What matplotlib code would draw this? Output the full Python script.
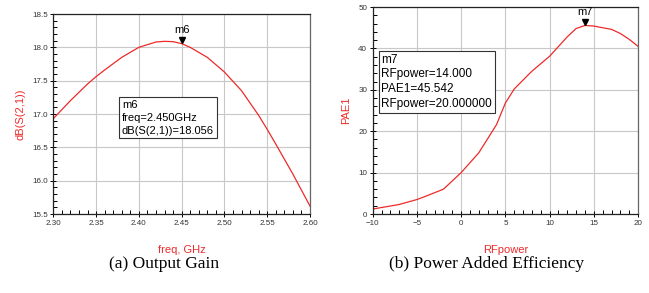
import numpy as np
import matplotlib.pyplot as plt
from matplotlib.ticker import MultipleLocator

# %% data

freq = [2.30, 2.32, 2.34, 2.35, 2.36, 2.38, 2.40, 2.42, 2.43, 2.44, 2.45,
        2.46, 2.48, 2.50, 2.52, 2.54, 2.55, 2.56, 2.58, 2.60]
gain = [16.93, 17.20, 17.45, 17.56, 17.66, 17.85, 18.00, 18.08, 18.09, 18.085, 18.056,
        18.00, 17.85, 17.63, 17.35, 16.98, 16.77, 16.55, 16.10, 15.62]

rfpower = [-10, -7, -5, -4, -2, 0, 2, 4, 5, 6, 8, 10, 12, 13, 14, 15, 17, 18, 19, 20]
pae = [1.2, 2.3, 3.5, 4.3, 6.0, 10.0, 14.8, 21.6, 26.8, 30.2, 34.5, 38.1, 42.8, 44.8,
       45.542, 45.4, 44.6, 43.6, 42.2, 40.5]

m6 = (2.45, 18.056)
m7 = (14.0, 45.542)
m6_text = "m6\nfreq=2.450GHz\ndB(S(2,1))=18.056"
m7_text = "m7\nRFpower=14.000\nPAE1=45.542\nRFpower=20.000000"

# %% styling

RED = "#ee2a2a"
plt.rcParams["font.family"] = ["Liberation Sans", "DejaVu Sans"]

fig = plt.figure(figsize=(6.49, 2.93), dpi=100)


def style_ax(ax, xmaj, xmin, ymaj, ymin, xfmt, yfmt):
    ax.xaxis.set_major_locator(MultipleLocator(xmaj))
    ax.xaxis.set_minor_locator(MultipleLocator(xmin))
    ax.yaxis.set_major_locator(MultipleLocator(ymaj))
    ax.yaxis.set_minor_locator(MultipleLocator(ymin))
    ax.xaxis.set_major_formatter(xfmt)
    ax.yaxis.set_major_formatter(yfmt)
    ax.grid(True, which="major", color="#c8c8c8", lw=0.8)
    ax.tick_params(which="major", direction="inout", length=5, width=0.7,
                   labelsize=5.8, labelcolor="#333333", pad=1.5)
    ax.tick_params(which="minor", direction="in", length=3, width=0.7)
    ax.tick_params(which="both", top=False, right=False)
    for s in ["left", "bottom", "top"]:
        ax.spines[s].set_color("#222222")
        ax.spines[s].set_linewidth(0.9)
    ax.spines["right"].set_color("#666666")
    ax.spines["right"].set_linewidth(0.9)


# left: output gain
ax1 = fig.add_axes([0.0821, 0.2696, 0.3955, 0.6826])
ax1.plot(freq, gain, color=RED, lw=0.9)
ax1.set_xlim(2.30, 2.60)
ax1.set_ylim(15.5, 18.5)
style_ax(ax1, 0.05, 0.01, 0.5, 0.1, "{x:.2f}", "{x:.1f}")
ax1.set_xlabel("freq, GHz", color=RED, fontsize=8, labelpad=13)
ax1.set_ylabel("dB(S(2,1))", color=RED, fontsize=8, labelpad=5)
ax1.plot(m6[0], m6[1] + 0.06, marker="v", color="black", ms=5)
ax1.annotate("m6", (m6[0], m6[1]), xytext=(0, 6), textcoords="offset points",
             ha="center", va="bottom", fontsize=8)
ax1.text(0.267, 0.57, m6_text, transform=ax1.transAxes, fontsize=8,
         va="top", ha="left", linespacing=1.35,
         bbox=dict(boxstyle="square,pad=0.25", fc="white", ec="#333333", lw=0.8))
fig.text(0.253, 0.1, "(a) Output Gain", family="Liberation Serif",
         fontsize=12.5, ha="center", va="center")

# right: power added efficiency
ax2 = fig.add_axes([0.5743, 0.2696, 0.4088, 0.7065])
ax2.plot(rfpower, pae, color=RED, lw=0.9)
ax2.set_xlim(-10, 20)
ax2.set_ylim(0, 50)
style_ax(ax2, 5, 1, 10, 2, "{x:.0f}", "{x:.0f}")
ax2.set_xlabel("RFpower", color=RED, fontsize=8, labelpad=13)
ax2.set_ylabel("PAE1", color=RED, fontsize=8, labelpad=5)
ax2.plot(m7[0], m7[1] + 0.9, marker="v", color="black", ms=5)
ax2.annotate("m7", (m7[0], m7[1]), xytext=(0, 6), textcoords="offset points",
             ha="center", va="bottom", fontsize=8)
ax2.text(0.033, 0.774, m7_text, transform=ax2.transAxes, fontsize=8.5,
         va="top", ha="left", linespacing=1.3,
         bbox=dict(boxstyle="square,pad=0.25", fc="white", ec="#333333", lw=0.8))
fig.text(0.75, 0.1, "(b) Power Added Efficiency", family="Liberation Serif",
         fontsize=12.5, ha="center", va="center")

fig.savefig("out.png", dpi=100)
